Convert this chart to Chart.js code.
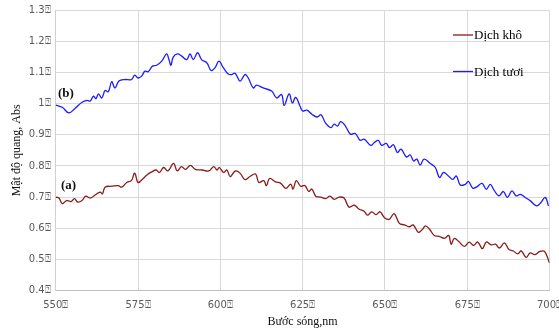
<!DOCTYPE html>
<html><head><meta charset="utf-8">
<script src="https://cdn.jsdelivr.net/npm/chart.js@4/dist/chart.umd.min.js"></script>
<style>html,body{margin:0;padding:0;background:#fff}#wrap{width:559px;height:331px}</style>
</head><body><div id="wrap"><canvas id="c" width="559" height="331"></canvas></div>
<script>
const seriesNames = ['Dịch khô', 'Dịch tươi'];
const curveLabels = ['(a)', '(b)'];
const xTickLabels = ['550\u2370','575\u2370','600\u2370','625\u2370','650\u2370','675\u2370','700\u2370'];
const yTickLabels = ['0.4\u2370','0.5\u2370','0.6\u2370','0.7\u2370','0.8\u2370','0.9\u2370','1\u2370','1.1\u2370','1.2\u2370','1.3\u2370'];
const xAxisTitle = 'Bước sóng,nm';
const yAxisTitle = 'Mật độ quang, Abs';

const dryWavelength = [550,551,552,553.3,554.7,555.7,556.7,558,559.1,560.5,562,563.5,564.2,565,567,569,570,571.6,573,574,575,576.2,577.7,579.2,580.5,581.5,582.8,584.1,585.8,586.9,588.2,589.4,590.9,592.4,594.5,596.5,598,599,599.7,601,602,603,604.6,606,607.5,609,610.7,611.7,613.2,614,615,616.8,618.3,619.9,621.4,622.1,623.1,624.4,625.7,626.9,627.8,629,630.5,632,633.3,634.6,636.1,637.6,639.1,640.7,642.2,643.7,644.7,646,647.3,648.5,649.9,651.3,652.8,654.4,655.9,657.4,658.6,660.2,661.5,662.3,663.5,665,666.5,668.1,669.4,670.1,671.1,672.6,674.1,675.6,676.9,678.2,679.6,680.8,682.3,683.6,684.8,686.3,687.7,688.9,690.4,691.4,692.9,694.1,695.6,697.1,698.5,700];
const dryAbs = [0.700,0.697,0.679,0.689,0.686,0.695,0.684,0.689,0.703,0.697,0.707,0.716,0.711,0.732,0.735,0.737,0.732,0.747,0.753,0.777,0.747,0.756,0.771,0.781,0.787,0.779,0.795,0.784,0.808,0.784,0.798,0.789,0.802,0.789,0.787,0.784,0.798,0.787,0.795,0.779,0.787,0.766,0.784,0.777,0.756,0.766,0.774,0.747,0.753,0.737,0.760,0.749,0.745,0.728,0.742,0.726,0.753,0.735,0.737,0.718,0.726,0.703,0.700,0.695,0.703,0.693,0.700,0.697,0.668,0.674,0.661,0.655,0.642,0.653,0.644,0.653,0.634,0.629,0.647,0.616,0.611,0.605,0.611,0.587,0.598,0.608,0.598,0.577,0.574,0.568,0.577,0.549,0.568,0.556,0.542,0.556,0.545,0.556,0.535,0.556,0.547,0.549,0.537,0.553,0.532,0.528,0.518,0.528,0.507,0.521,0.516,0.526,0.526,0.489];

const freshWavelength = [550,552,554,556,558,559.5,560.5,561.5,562.2,563,564,565,566,567,568,569.2,571,573,574,575,576.1,577.1,578.1,579.4,580.7,582.2,583.7,584.4,585,585.7,587,588.3,589.8,590.8,591.8,593.1,594.3,595.9,597.2,598.4,599.6,600.9,602.4,603.4,604.5,606,607.5,608.5,610,611,613,615.6,617.1,618.6,619.4,620.9,621.9,622.9,624.2,625,626.3,627.8,629.4,630.6,631.9,633.6,634.6,635.6,636.6,638,639.5,641,642.5,643.7,645.7,646.8,648,649,650.4,651.4,652.6,653.8,654.9,656.5,657.7,658.7,659.7,660.7,661.9,663.8,665.3,666.6,667.8,669.3,670.6,671.7,672.9,674.4,675.4,676.7,677.9,679.5,680.8,682,683,684.6,686,687.2,688.6,689.9,691.1,692.6,694.2,696.1,697.4,698.7,699.7];
const freshAbs = [0.995,0.988,0.970,0.986,1.004,1.010,1.008,1.024,1.016,1.031,1.018,1.042,1.038,1.070,1.050,1.072,1.077,1.077,1.091,1.082,1.088,1.104,1.102,1.120,1.123,1.136,1.159,1.141,1.123,1.149,1.159,1.152,1.141,1.159,1.141,1.163,1.141,1.131,1.106,1.115,1.136,1.115,1.095,1.093,1.097,1.072,1.093,1.082,1.050,1.059,1.050,1.040,1.018,1.029,0.994,1.031,1.002,1.020,0.992,0.976,0.979,0.966,0.957,0.964,0.939,0.923,0.934,0.928,0.942,0.928,0.902,0.904,0.882,0.886,0.866,0.875,0.882,0.866,0.872,0.859,0.868,0.843,0.854,0.829,0.835,0.816,0.822,0.803,0.822,0.808,0.795,0.763,0.779,0.768,0.757,0.768,0.739,0.741,0.750,0.729,0.733,0.744,0.725,0.741,0.725,0.704,0.718,0.699,0.720,0.704,0.709,0.699,0.688,0.672,0.683,0.699,0.672];

const colors = ['#8b1a1a', '#1c1cff'];
const toPts = (xs, ys) => xs.map((x, i) => ({x: x, y: ys[i]}));

const overlay = {
  id: 'overlay',
  afterDraw(chart) {
    const ctx = chart.ctx;
    ctx.save();
    const rows = [35, 71.5];
    ctx.font = '13px "Liberation Serif", serif';
    ctx.textBaseline = 'middle';
    ctx.textAlign = 'left';
    seriesNames.forEach((n, i) => {
      ctx.strokeStyle = colors[i];
      ctx.lineWidth = 1.3;
      ctx.beginPath(); ctx.moveTo(453, rows[i]); ctx.lineTo(473, rows[i]); ctx.stroke();
      ctx.fillStyle = '#000';
      ctx.fillText(n, 474, rows[i] + 1);
    });
    ctx.font = 'bold 13px "Liberation Serif", serif';
    ctx.fillStyle = '#111';
    ctx.fillText(curveLabels[0], 61, 186);
    ctx.fillText(curveLabels[1], 58, 93.5);
    ctx.restore();
  }
};

new Chart(document.getElementById('c'), {
  type: 'line',
  data: {
    datasets: [
      {label: seriesNames[0], data: toPts(dryWavelength, dryAbs), borderColor: colors[0], borderWidth: 1.3, pointRadius: 0, tension: 0.4, fill: false},
      {label: seriesNames[1], data: toPts(freshWavelength, freshAbs), borderColor: colors[1], borderWidth: 1.3, pointRadius: 0, tension: 0.4, fill: false}
    ]
  },
  options: {
    responsive: false,
    animation: false,
    layout: {padding: {top: 10, right: 9.5, left: 0, bottom: 0}},
    plugins: {legend: {display: false}, tooltip: {enabled: false}},
    scales: {
      x: {
        type: 'linear', min: 550, max: 700,
        ticks: {stepSize: 25, padding: 9, color: '#595959', font: {family: '"DejaVu Sans", sans-serif', size: 10},
          callback: (v) => xTickLabels[Math.round((v - 550) / 25)], maxRotation: 0, autoSkip: false},
        grid: {color: '#d9d9d9', lineWidth: 1, drawTicks: false},
        border: {color: '#bfbfbf'},
        title: {display: true, text: xAxisTitle, color: '#111', font: {family: '"Liberation Serif", serif', size: 12}, padding: {top: 0, bottom: 2}},
        afterFit: (s) => { s.height = 40.3; s.paddingLeft = 0; s.paddingRight = 0; }
      },
      y: {
        min: 0.4, max: 1.3,
        ticks: {stepSize: 0.1, padding: 5, color: '#595959', font: {family: '"DejaVu Sans", sans-serif', size: 10},
          callback: (v) => yTickLabels[Math.round((v - 0.4) * 10)]},
        grid: {color: '#d9d9d9', lineWidth: 1, drawTicks: false},
        border: {color: '#d0d0d0'},
        title: {display: true, text: yAxisTitle, color: '#111', font: {family: '"Liberation Serif", serif', size: 12}, padding: {top: 10, bottom: 0}},
        afterFit: (s) => { s.width = 55.7; s.paddingTop = 0; s.paddingBottom = 0; }
      }
    }
  },
  plugins: [overlay]
});
</script></body></html>
